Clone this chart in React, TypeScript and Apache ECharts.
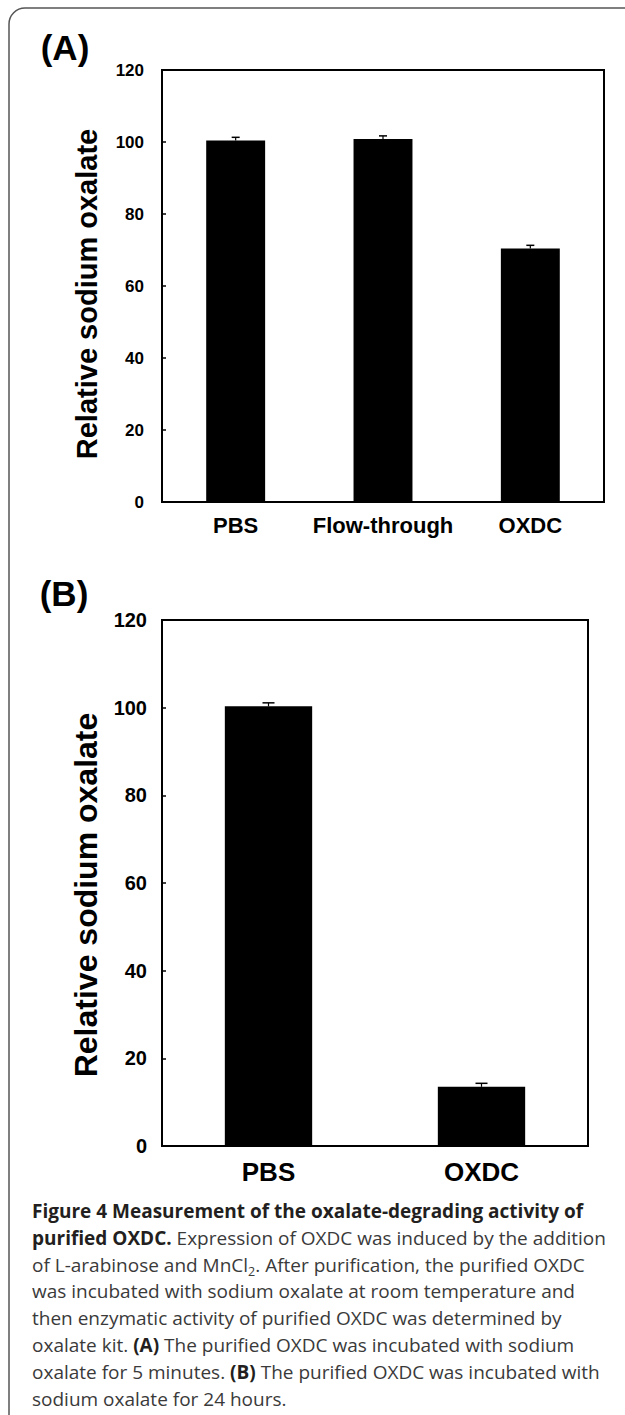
import React, { useEffect, useRef } from 'react';
import * as echarts from 'echarts';

// ---- Data ----
const categoriesA = ['PBS', 'Flow-through', 'OXDC'];
const valuesA = [100.4, 100.8, 70.4];
const errorsA = [0.9, 0.9, 0.9];

const categoriesB = ['PBS', 'OXDC'];
const valuesB = [100.3, 13.5];
const errorsB = [0.8, 0.8];

const yMin = 0;
const yMax = 120;
const yStep = 20;

const yTitle = 'Relative sodium oxalate';
const panelLabels = ['(A)', '(B)'];

const captionLines = [
  '{b|Figure 4 Measurement of the oxalate-degrading activity of}',
  '{b|purified OXDC.}{r| Expression of OXDC was induced by the addition}',
  '{r|of L-arabinose and MnCl}{s|2}{r|. After purification, the purified OXDC}',
  '{r|was incubated with sodium oxalate at room temperature and}',
  '{r|then enzymatic activity of purified OXDC was determined by}',
  '{r|oxalate kit. }{b|(A)}{r| The purified OXDC was incubated with sodium}',
  '{r|oxalate for 5 minutes. }{b|(B)}{r| The purified OXDC was incubated with}',
  '{r|sodium oxalate for 24 hours.}',
];

function hasFont(name: string): boolean {
  try {
    const ctx = document.createElement('canvas').getContext('2d');
    if (!ctx) return false;
    ctx.font = 'bold 40px monospace';
    const w1 = ctx.measureText('0123456789').width;
    ctx.font = `bold 40px "${name}", monospace`;
    const w2 = ctx.measureText('0123456789').width;
    return Math.abs(w1 - w2) > 0.5;
  } catch (e) {
    return false;
  }
}

const errRender = (capHalf: number) => (params: any, api: any) => {
  const x = api.value(0);
  const v = api.value(1);
  const e = api.value(2);
  const base = api.coord([x, v]);
  const top = api.coord([x, v + e]);
  return {
    type: 'group',
    children: [
      { type: 'line', shape: { x1: base[0], y1: base[1], x2: top[0], y2: top[1] }, style: { stroke: '#000', lineWidth: 1.2 } },
      { type: 'line', shape: { x1: top[0] - capHalf, y1: top[1], x2: top[0] + capHalf, y2: top[1] }, style: { stroke: '#000', lineWidth: 1.5 } },
    ],
  };
};

export default function App() {
  const ref = useRef<HTMLDivElement>(null);

  useEffect(() => {
    if (!ref.current) return;
    const chart = echarts.init(ref.current, undefined, { renderer: 'svg' });

    const narrow = hasFont('Liberation Sans Narrow');
    const tickFamily = narrow ? '"Liberation Sans Narrow", "Arial Narrow", sans-serif' : '"Liberation Sans", Arial, sans-serif';
    const tickSizeA = narrow ? 19 : 17;
    const tickSizeB = narrow ? 22 : 20;
    const sans = '"Liberation Sans", Arial, Helvetica, sans-serif';

    const yAxisCommon = (
      fontSize: number, margin: number, nameGap: number, gridIndex: number,
      nameSize: number, shift: number,
    ) => ({
      type: 'value',
      gridIndex,
      min: yMin,
      max: yMax,
      interval: yStep,
      splitLine: { show: false },
      axisLine: { show: true, lineStyle: { color: '#000', width: 2 } },
      axisTick: { show: true, inside: true, length: 4, lineStyle: { color: '#000', width: 1.5 } },
      axisLabel: { color: '#000', fontFamily: tickFamily, fontWeight: 'bold', fontSize, margin },
      name: yTitle,
      nameLocation: 'middle',
      nameRotate: 90,
      nameGap,
      nameTextStyle: {
        color: '#000', fontFamily: sans, fontWeight: 'bold', fontSize: nameSize, lineHeight: nameSize,
        padding: [0, shift, 0, 0],
      },
    });

    const xAxisCommon = (data: string[], fontSize: number, margin: number, gridIndex: number) => ({
      type: 'category',
      gridIndex,
      data,
      axisLine: { show: true, lineStyle: { color: '#000', width: 2 } },
      axisTick: { show: false },
      axisLabel: { color: '#000', fontFamily: sans, fontWeight: 'bold', fontSize, margin, interval: 0, lineHeight: fontSize },
      splitLine: { show: false },
    });

    chart.setOption({
      animation: false,
      backgroundColor: '#fff',
      grid: [
        { left: 162, top: 70, width: 442, height: 432, show: true, borderColor: '#000', borderWidth: 2, backgroundColor: 'transparent' },
        { left: 162, top: 620, width: 426, height: 526, show: true, borderColor: '#000', borderWidth: 2, backgroundColor: 'transparent' },
      ],
      xAxis: [xAxisCommon(categoriesA, 22, 12, 0), xAxisCommon(categoriesB, 26, 13, 1)],
      yAxis: [yAxisCommon(tickSizeA, 18, 61, 0, 29, 16), yAxisCommon(tickSizeB, 15, 60, 1, 32, 24)],
      series: [
        { type: 'bar', xAxisIndex: 0, yAxisIndex: 0, data: valuesA, barWidth: '40%', itemStyle: { color: '#000' }, z: 2 },
        {
          type: 'custom', xAxisIndex: 0, yAxisIndex: 0, renderItem: errRender(4), z: 3,
          data: valuesA.map((v, i) => [i, v, errorsA[i]]),
        },
        { type: 'bar', xAxisIndex: 1, yAxisIndex: 1, data: valuesB, barWidth: '41%', itemStyle: { color: '#000' }, z: 2 },
        {
          type: 'custom', xAxisIndex: 1, yAxisIndex: 1, renderItem: errRender(6), z: 3,
          data: valuesB.map((v, i) => [i, v, errorsB[i]]),
        },
      ],
      graphic: [
        {
          type: 'rect', z: 0, silent: true,
          shape: { x: 9, y: 8, width: 800, height: 1600, r: [16, 0, 0, 0] },
          style: { fill: 'none', stroke: '#555', lineWidth: 1.5 },
        },
        {
          type: 'text', x: 65, y: 47,
          style: { text: panelLabels[0], fontFamily: sans, fontWeight: 'bold', fontSize: 35, fill: '#000', align: 'center', verticalAlign: 'middle' },
        },
        {
          type: 'text', x: 64, y: 593,
          style: { text: panelLabels[1], fontFamily: sans, fontWeight: 'bold', fontSize: 35, fill: '#000', align: 'center', verticalAlign: 'middle' },
        },
        {
          type: 'text', x: 32, y: 1197.6,
          style: {
            text: captionLines.join('\n'),
            align: 'left',
            verticalAlign: 'top',
            fontFamily: '"Open Sans", sans-serif',
            fontSize: 19,
            lineHeight: 26.8,
            rich: {
              b: { fontFamily: '"Open Sans", sans-serif', fontWeight: 'bold', fontSize: 19, lineHeight: 26.8, fill: '#231f20' },
              r: { fontFamily: '"Open Sans", sans-serif', fontSize: 19, lineHeight: 26.8, fill: '#3a3a3a' },
              s: { fontFamily: '"Open Sans", sans-serif', fontSize: 12.5, lineHeight: 17, verticalAlign: 'bottom', fill: '#3a3a3a' },
            },
          },
        },
      ],
    });

    return () => chart.dispose();
  }, []);

  return <div ref={ref} style={{ position: 'absolute', left: 0, top: 0, width: 625, height: 1415 }} />;
}
